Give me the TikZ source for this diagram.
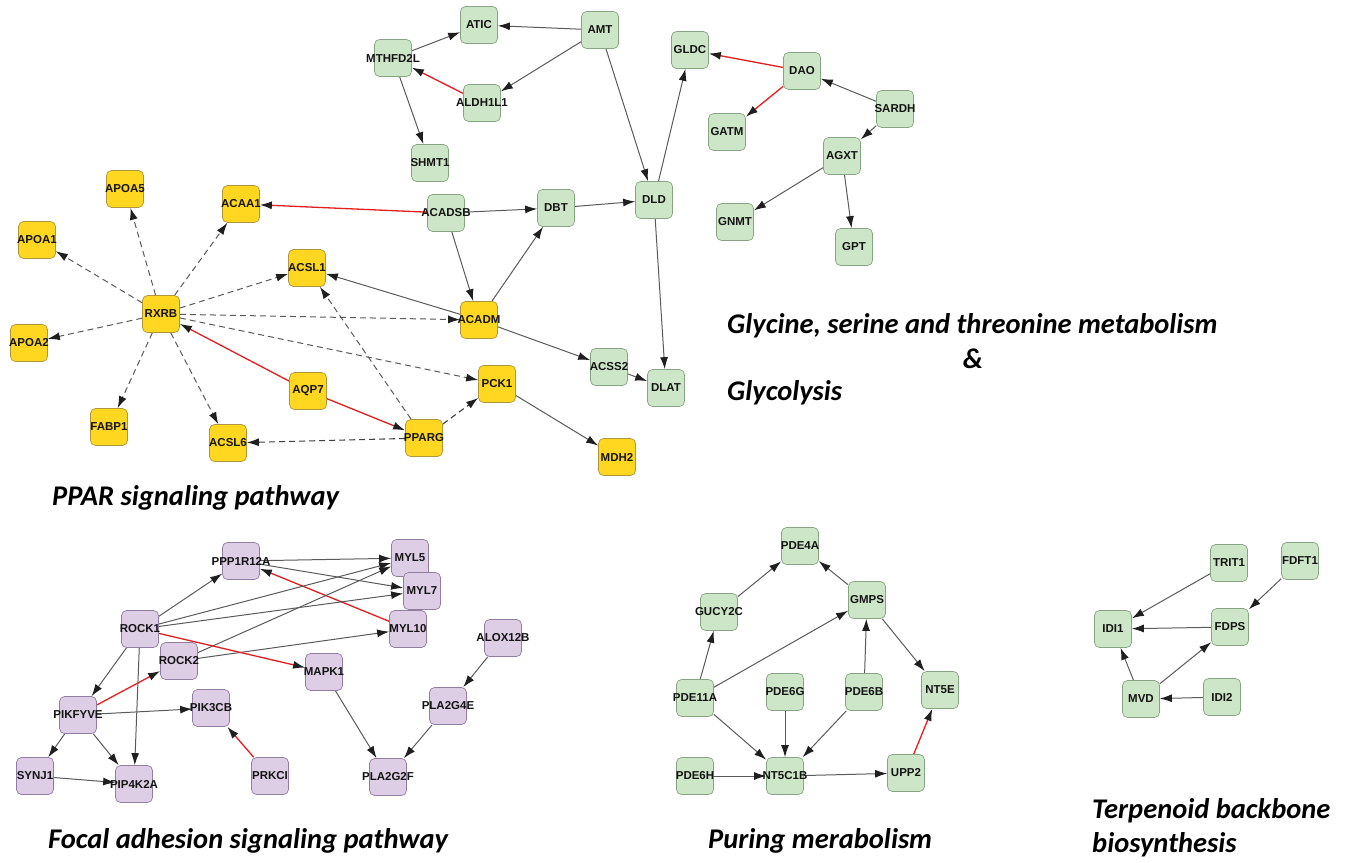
\documentclass[tikz,border=0pt]{standalone}
\usepackage{fontspec}
\setmainfont{Liberation Sans}
\newfontfamily\calfont{Carlito}
\usetikzlibrary{arrows.meta,backgrounds}
\definecolor{gfill}{RGB}{206,230,200}
\definecolor{gdraw}{RGB}{135,165,130}
\definecolor{yfill}{RGB}{255,214,32}
\definecolor{ydraw}{RGB}{175,150,60}
\definecolor{pfill}{RGB}{221,206,230}
\definecolor{pdraw}{RGB}{145,125,160}
\definecolor{edgegray}{RGB}{90,90,90}
\definecolor{edgered}{RGB}{228,30,30}
\newcommand\gl[1]{\makebox[0pt]{#1}}
\tikzset{
  gene/.style={rectangle, rounded corners=5pt, minimum width=37pt, minimum height=37pt,
    inner sep=0pt, line width=0.7pt, font=\fontsize{11.5}{13}\selectfont\bfseries, text=black!92},
  gn/.style={gene, fill=gfill, draw=gdraw},
  yl/.style={gene, fill=yfill, draw=ydraw},
  pu/.style={gene, fill=pfill, draw=pdraw},
  tiparrow/.style={-{Latex[length=12pt,width=8pt,color=black!88]}},
  e/.style={draw=edgegray, line width=1pt, tiparrow},
  er/.style={draw=edgered, line width=1.3pt, tiparrow},
  ed/.style={draw=edgegray, line width=1pt, dash pattern=on 6pt off 4pt, tiparrow},
  edk/.style={draw=black!75, line width=1.1pt, dash pattern=on 6pt off 4pt, tiparrow},
  captxt/.style={font=\calfont\bfseries\itshape\fontsize{28.5}{32}\selectfont, inner sep=0pt, anchor=base west}
}
\begin{document}
\begin{tikzpicture}[x=1pt,y=-1pt]
\useasboundingbox (0,0) rectangle (1357,862);
% ---------- Glycine cluster ----------
\node[gn] (atic) at (479,25) {\gl{ATIC}};
\node[gn] (amt) at (600,30) {\gl{AMT}};
\node[gn] (mthfd) at (393,58) {\gl{MTHFD2L}};
\node[gn] (aldh) at (482,103) {\gl{ALDH1L1}};
\node[gn] (shmt) at (430,163) {\gl{SHMT1}};
\node[gn] (dld) at (654,200) {\gl{DLD}};
\node[gn] (gldc) at (690,50) {\gl{GLDC}};
\node[gn] (dao) at (802,71) {\gl{DAO}};
\node[gn] (sardh) at (895,109) {\gl{SARDH}};
\node[gn] (gatm) at (727,132) {\gl{GATM}};
\node[gn] (agxt) at (842,156) {\gl{AGXT}};
\node[gn] (gnmt) at (735,222) {\gl{GNMT}};
\node[gn] (gpt) at (854,247) {\gl{GPT}};
\node[gn] (acadsb) at (446,213) {\gl{ACADSB}};
\node[gn] (dbt) at (556,208) {\gl{DBT}};
\node[gn] (acss2) at (609,367) {\gl{ACSS2}};
\node[gn] (dlat) at (666,388) {\gl{DLAT}};
% ---------- PPAR cluster ----------
\node[yl] (acadm) at (479,320) {\gl{ACADM}};
\node[yl] (pck1) at (497,384) {\gl{PCK1}};
\node[yl] (pparg) at (424,438) {\gl{PPARG}};
\node[yl] (mdh2) at (617,457) {\gl{MDH2}};
\node[yl] (apoa5) at (125,189) {\gl{APOA5}};
\node[yl] (acaa1) at (241,204) {\gl{ACAA1}};
\node[yl] (apoa1) at (37,240) {\gl{APOA1}};
\node[yl] (acsl1) at (307,268) {\gl{ACSL1}};
\node[yl] (rxrb) at (161,314) {\gl{RXRB}};
\node[yl] (apoa2) at (29,343) {\gl{APOA2}};
\node[yl] (aqp7) at (308,391) {\gl{AQP7}};
\node[yl] (fabp1) at (109,427) {\gl{FABP1}};
\node[yl] (acsl6) at (228,443) {\gl{ACSL6}};
% ---------- Focal adhesion ----------
\node[pu] (ppp) at (241,561) {\gl{PPP1R12A}};
\node[pu] (rock1) at (140,629) {\gl{ROCK1}};
\node[pu] (rock2) at (179,661) {\gl{ROCK2}};
\node[pu] (pikfyve) at (78,715) {\gl{PIKFYVE}};
\node[pu] (pik3cb) at (211,708) {\gl{PIK3CB}};
\node[pu] (synj1) at (35,776) {\gl{SYNJ1}};
\node[pu] (pip4k2a) at (134,784) {\gl{PIP4K2A}};
\node[pu] (prkci) at (270,776) {\gl{PRKCI}};
\node[pu] (myl5) at (410,558) {\gl{MYL5}};
\node[pu] (myl7) at (422,591) {\gl{MYL7}};
\node[pu] (myl10) at (408,629) {\gl{MYL10}};
\node[pu] (alox) at (503,638) {\gl{ALOX12B}};
\node[pu] (mapk1) at (324,672) {\gl{MAPK1}};
\node[pu] (pla4e) at (448,706) {\gl{PLA2G4E}};
\node[pu] (pla2f) at (388,777) {\gl{PLA2G2F}};
% ---------- Purine ----------
\node[gn] (pde4a) at (800,546) {\gl{PDE4A}};
\node[gn] (gmps) at (867,600) {\gl{GMPS}};
\node[gn] (gucy) at (719,612) {\gl{GUCY2C}};
\node[gn] (pde11a) at (695,698) {\gl{PDE11A}};
\node[gn] (pde6g) at (785,692) {\gl{PDE6G}};
\node[gn] (pde6b) at (864,692) {\gl{PDE6B}};
\node[gn] (nt5e) at (940,690) {\gl{NT5E}};
\node[gn] (pde6h) at (695,776) {\gl{PDE6H}};
\node[gn] (nt5c1b) at (785,776) {\gl{NT5C1B}};
\node[gn] (upp2) at (906,773) {\gl{UPP2}};
% ---------- Terpenoid ----------
\node[gn] (trit1) at (1229,563) {\gl{TRIT1}};
\node[gn] (fdft1) at (1300,561) {\gl{FDFT1}};
\node[gn] (idi1) at (1113,629) {\gl{IDI1}};
\node[gn] (fdps) at (1230,627) {\gl{FDPS}};
\node[gn] (mvd) at (1141,699) {\gl{MVD}};
\node[gn] (idi2) at (1222,697) {\gl{IDI2}};
\begin{scope}[on background layer]
% ---------- edges: glycine ----------
\draw[e] (amt) -- (atic);
\draw[e] (mthfd) -- (atic);
\draw[e] (amt) -- (aldh);
\draw[er] (aldh) -- (mthfd);
\draw[e] (mthfd) -- (shmt);
\draw[e] (amt) -- (dld);
\draw[e] (dld) -- (gldc);
\draw[er] (dao) -- (gldc);
\draw[er] (dao) -- (gatm);
\draw[e] (sardh) -- (dao);
\draw[e] (sardh) -- (agxt);
\draw[e] (agxt) -- (gnmt);
\draw[e] (agxt) -- (gpt);
\draw[e] (acadsb) -- (dbt);
\draw[e] (dbt) -- (dld);
\draw[e] (acadsb) -- (acadm);
\draw[e] (acadm) -- (dbt);
\draw[e] (dld) -- (dlat);
\draw[e] (acadm) -- (acss2);
\draw[e] (acss2) -- (dlat);
\draw[er] (acadsb) -- (acaa1);
\draw[e] (acadm) -- (acsl1);
\draw[e] (pck1) -- (mdh2);
% ---------- edges: PPAR ----------
\draw[ed] (rxrb) -- (apoa5);
\draw[ed] (rxrb) -- (apoa1);
\draw[ed] (rxrb) -- (apoa2);
\draw[ed] (rxrb) -- (fabp1);
\draw[ed] (rxrb) -- (acsl6);
\draw[ed] (rxrb) -- (acaa1);
\draw[ed] (rxrb) -- (acsl1);
\draw[ed] (rxrb) -- (acadm);
\draw[ed] (rxrb) -- (pck1);
\draw[er] (aqp7) -- (rxrb);
\draw[er] (aqp7) -- (pparg);
\draw[ed] (pparg) -- (acsl1);
\draw[edk] (pparg) -- (pck1);
\draw[edk] (pparg) -- (acsl6);
% ---------- edges: focal adhesion ----------
\draw[e] (rock1) -- (ppp);
\draw[e] (ppp) -- (myl5);
\draw[e] (ppp) -- (myl7);
\draw[er] (myl10) -- (ppp);
\draw[e] (rock1) -- (myl5);
\draw[e] (rock1) -- (myl7);
\draw[e] (rock2) -- (myl5);
\draw[e] (rock2) -- (myl10);
\draw[er] (rock1) -- (mapk1);
\draw[e] (rock1) -- (pikfyve);
\draw[e] (rock1) -- (pip4k2a);
\draw[er] (pikfyve) -- (rock2);
\draw[e] (pikfyve) -- (pik3cb);
\draw[e] (pikfyve) -- (synj1);
\draw[e] (pikfyve) -- (pip4k2a);
\draw[e] (synj1) -- (pip4k2a);
\draw[er] (prkci) -- (pik3cb);
\draw[e] (mapk1) -- (pla2f);
\draw[e] (alox) -- (pla4e);
\draw[e] (pla4e) -- (pla2f);
% ---------- edges: purine ----------
\draw[e] (gucy) -- (pde4a);
\draw[e] (gmps) -- (pde4a);
\draw[e] (pde11a) -- (gucy);
\draw[e] (pde11a) -- (gmps);
\draw[e] (pde6b) -- (gmps);
\draw[e] (gmps) -- (nt5e);
\draw[e] (pde11a) -- (nt5c1b);
\draw[e] (pde6g) -- (nt5c1b);
\draw[e] (pde6b) -- (nt5c1b);
\draw[e] (pde6h) -- (nt5c1b);
\draw[e] (nt5c1b) -- (upp2);
\draw[er] (upp2) -- (nt5e);
% ---------- edges: terpenoid ----------
\draw[e] (trit1) -- (idi1);
\draw[e] (fdft1) -- (fdps);
\draw[e] (fdps) -- (idi1);
\draw[e] (mvd) -- (idi1);
\draw[e] (mvd) -- (fdps);
\draw[e] (idi2) -- (mvd);
\end{scope}
% ---------- captions ----------
\node[captxt] (capgly) at (727,333) {Glycine, serine and threonine metabolism};
\node[captxt, anchor=base] (capamp) at (973,368) {\&};
\node[captxt] (capglc) at (727,400) {Glycolysis};
\node[captxt] (capppar) at (52,505) {PPAR signaling pathway};
\node[captxt] (capfocal) at (48,848) {Focal adhesion signaling pathway};
\node[captxt] (cappur) at (708,848) {Puring merabolism};
\node[captxt] (capter) at (1092,818) {Terpenoid backbone};
\node[captxt] (capbio) at (1092,852) {biosynthesis};
\end{tikzpicture}
\end{document}
